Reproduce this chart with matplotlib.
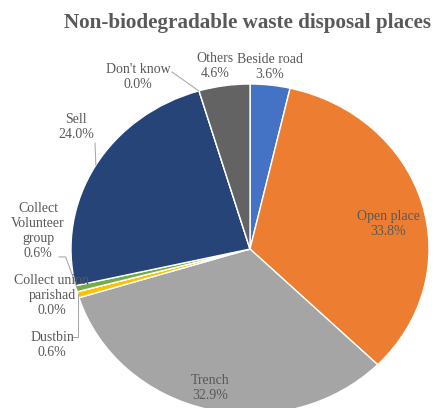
import matplotlib
matplotlib.use("Agg")
import matplotlib.pyplot as plt

plt.rcParams["font.family"] = ["Liberation Serif", "DejaVu Serif"]

places = ["Beside road", "Open place", "Trench", "Dustbin", "Collect union\nparishad",
          "Collect\nVolunteer\ngroup", "Sell", "Don't know", "Others"]
shares = [3.6, 33.8, 32.9, 0.6, 0.0, 0.6, 24.0, 0.0, 4.6]
colors = ["#4472C4", "#ED7D31", "#A5A5A5", "#FFC000", "#5B9BD5",
          "#70AD47", "#264478", "#9E480E", "#636363"]

# label anchors (data coords of the squashed unit circle), Excel-style manual layout
label_pos = [(0.112, 1.103), (0.771, 0.152), (-0.223, -0.842), (-1.106, -0.582),
             (-1.106, -0.279), (-1.184, 0.112), (-0.972, 0.739), (-0.626, 1.042),
             (-0.196, 1.109)]
leaders = {
    3: [(-0.994, -0.533), (-0.961, -0.533), (-0.961, -0.273)],
    5: [(-1.067, -0.048), (-1.030, -0.048), (-0.966, -0.236)],
    6: [(-0.866, 0.642), (-0.861, 0.509)],
    7: [(-0.436, 1.073), (-0.286, 0.958)],
}

W, H = 438, 408
fig = plt.figure(figsize=(W / 100, H / 100), dpi=100)
cx, cy, rx, ry = 250, 249, 179, 165
ax = fig.add_axes([(cx - rx) / W, (H - cy - ry) / H, 2 * rx / W, 2 * ry / H])

ax.pie(shares, colors=colors, startangle=90, counterclock=False,
       wedgeprops=dict(edgecolor="white", linewidth=1.0))
ax.set_aspect("auto")
ax.set_xlim(-1, 1)
ax.set_ylim(-1, 1)
ax.axis("off")

for i, (name, val) in enumerate(zip(places, shares)):
    x, y = label_pos[i]
    ax.text(x, y, f"{name}\n{val:.1f}%", ha="center", va="center", fontsize=10,
            color="#595959", linespacing=1.2, clip_on=False)

for pts in leaders.values():
    xs, ys = zip(*pts)
    ax.plot(xs, ys, color="#A6A6A6", lw=0.75, clip_on=False)

fig.text(247 / W, 1 - 23 / H, "Non-biodegradable waste disposal places", ha="center",
         va="center", fontsize=15.2, fontweight="bold", color="#595959")

fig.savefig("out.png", dpi=100)
